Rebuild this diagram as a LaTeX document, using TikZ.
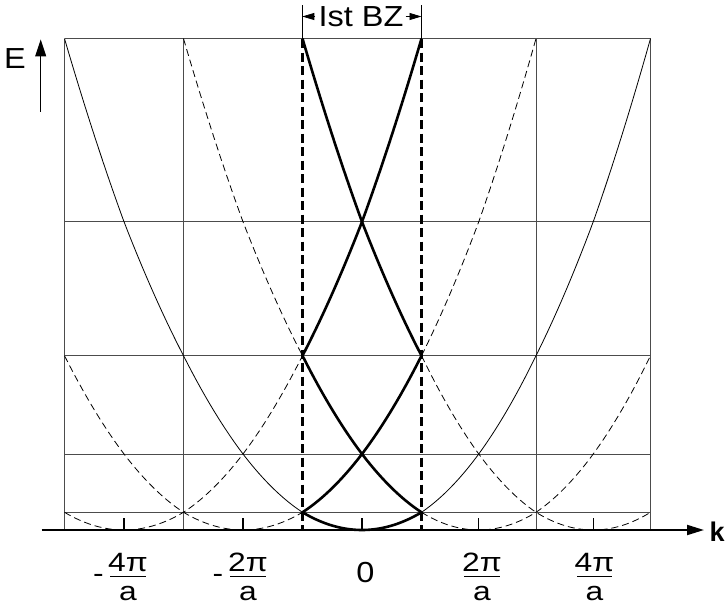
\documentclass[tikz,border=0pt]{standalone}
\usepackage{fontspec}
\setmainfont{Liberation Sans}
\usetikzlibrary{arrows.meta}
\newcommand{\hs}[1]{\scalebox{1.12}[1]{#1}}
\newcommand{\hf}[1]{\scalebox{1.2}[1]{#1}}
\newcommand{\lblfont}{\fontsize{29}{32}\selectfont}
\newcommand{\fracfont}{\fontsize{26.5}{30}\selectfont}
\newcommand{\parab}[4][]{\draw[#1] plot[domain=#3:#4, samples=50, variable=\t] ({Xk(\t)},{Ye((\t-(#2))*(\t-(#2)))});}
\begin{document}
\begin{tikzpicture}[x=1pt,y=-1pt,
  declare function={
    Xk(\k)=(\k<=1)*(362+59.5*\k)+(\k>1)*(421.5+57.25*(\k-1));
    Ye(\e)=(\e<=1)*(530-17.7*\e)+(\e>1)*(\e<=4)*(512.3-19.43*(\e-1))+(\e>4)*(\e<=9)*(454-19.66*(\e-4))+(\e>9)*(\e<=16)*(355.7-19.13*(\e-9))+(\e>16)*(221.8-20.36*(\e-16));
  },
  gridline/.style={line width=0.8pt, black!70},
  thinsolid/.style={line width=0.8pt, black},
  thindash/.style={line width=0.8pt, black, dash pattern=on 7pt off 4pt},
  band/.style={line width=2.6pt, black, line join=round},
  bzline/.style={line width=2.4pt, black, dash pattern=on 9pt off 4.5pt},
  lbl/.style={inner sep=0pt, font=\lblfont},
  flbl/.style={inner sep=0pt, font=\fracfont},
  tick/.style={line width=1.2pt, black},
  fracbar/.style={line width=1.3pt, black}]
\fill[white] (0,0) rectangle (726,605);
\useasboundingbox (0,0) rectangle (726,605);

% grid
\foreach \e in {1,4,9,16,25}
  \draw[gridline] ({Xk(-5)},{Ye(\e)}) -- ({Xk(5)},{Ye(\e)});
\foreach \k in {-5,-3,3,5}
  \draw[gridline] ({Xk(\k)},{Ye(25)}) -- ({Xk(\k)},{Ye(0)});

% free-electron parabolas outside the first zone
\parab[thinsolid]{0}{-5}{-1}
\parab[thinsolid]{0}{1}{5}
\parab[thindash]{2}{-3}{-1}
\parab[thindash]{2}{1}{5}
\parab[thindash]{-2}{-5}{-1}
\parab[thindash]{-2}{1}{3}
\parab[thindash]{4}{1}{5}
\parab[thindash]{-4}{-5}{-1}

% ticks
\foreach \k in {-4,-2,0,2,4}
  \draw[tick] ({Xk(\k)},518) -- ({Xk(\k)},530);

% bands in the first zone
\parab[band]{0}{-1}{1}
\parab[band]{2}{-1}{1}
\parab[band]{-2}{-1}{1}
\parab[band]{4}{-1}{1}
\parab[band]{-4}{-1}{1}

% zone boundaries
\coordinate (bzlt) at (302.3,39);
\coordinate (bzlb) at (302.3,530);
\coordinate (bzrt) at (421.5,39);
\coordinate (bzrb) at (421.5,530);
\draw[bzline] (bzlt) -- (bzlb);
\draw[bzline] (bzrt) -- (bzrb);

% Ist BZ bracket
\coordinate (bzltop) at (302.3,5);
\coordinate (bzrtop) at (421.5,5);
\draw[line width=0.8pt] (bzltop) -- (bzlt);
\draw[line width=0.8pt] (bzrtop) -- (bzrt);
\node[lbl, anchor=base] (bz) at (361,26.5) {\hs{Ist BZ}};
\coordinate (bzla) at (315,16.5);
\coordinate (bzlp) at (302.3,16.5);
\coordinate (bzra) at (405.5,16.5);
\coordinate (bzrp) at (421.5,16.5);
\draw[line width=0.8pt, -{Triangle[length=12pt,width=7pt]}] (bzla) -- (bzlp);
\draw[line width=0.8pt, -{Triangle[length=12pt,width=7pt]}] (bzra) -- (bzrp);

% k axis
\coordinate (kstart) at (41.7,530);
\coordinate (kend) at (704,530);
\draw[line width=2pt, -{Triangle[length=17pt,width=10pt]}] (kstart) -- (kend);
\node[lbl, anchor=base west, font=\fontsize{27}{30}\selectfont\bfseries] (k) at (709.5,541.7) {k};

% E axis
\coordinate (Ebase) at (40.7,111.7);
\coordinate (Etip) at (40.7,39.3);
\draw[line width=1.5pt, -{Triangle[length=17pt,width=10.7pt]}] (Ebase) -- (Etip);
\node[lbl, anchor=base west] (E) at (4,68.3) {\hs{E}};

% k labels
\node[flbl, anchor=base] (m4m) at (98.5,582) {\hf{-}};
\node[flbl, anchor=base] (m4n) at (128,571.7) {\hf{4π}};
\draw[fracbar] (110,576.7) -- (146,576.7);
\node[flbl, anchor=base] (m4d) at (128,600) {\hf{a}};

\node[flbl, anchor=base] (m2m) at (218,582) {\hf{-}};
\node[flbl, anchor=base] (m2n) at (248,571.7) {\hf{2π}};
\draw[fracbar] (230,576.7) -- (266,576.7);
\node[flbl, anchor=base] (m2d) at (248,600) {\hf{a}};

\node[lbl, anchor=base] (zero) at (365.5,582.4) {\hs{0}};

\node[flbl, anchor=base] (p2n) at (482,571.7) {\hf{2π}};
\draw[fracbar] (464,576.7) -- (500,576.7);
\node[flbl, anchor=base] (p2d) at (482,600) {\hf{a}};

\node[flbl, anchor=base] (p4n) at (594.5,571.7) {\hf{4π}};
\draw[fracbar] (577,576.7) -- (612,576.7);
\node[flbl, anchor=base] (p4d) at (594.5,600) {\hf{a}};
\end{tikzpicture}
\end{document}
